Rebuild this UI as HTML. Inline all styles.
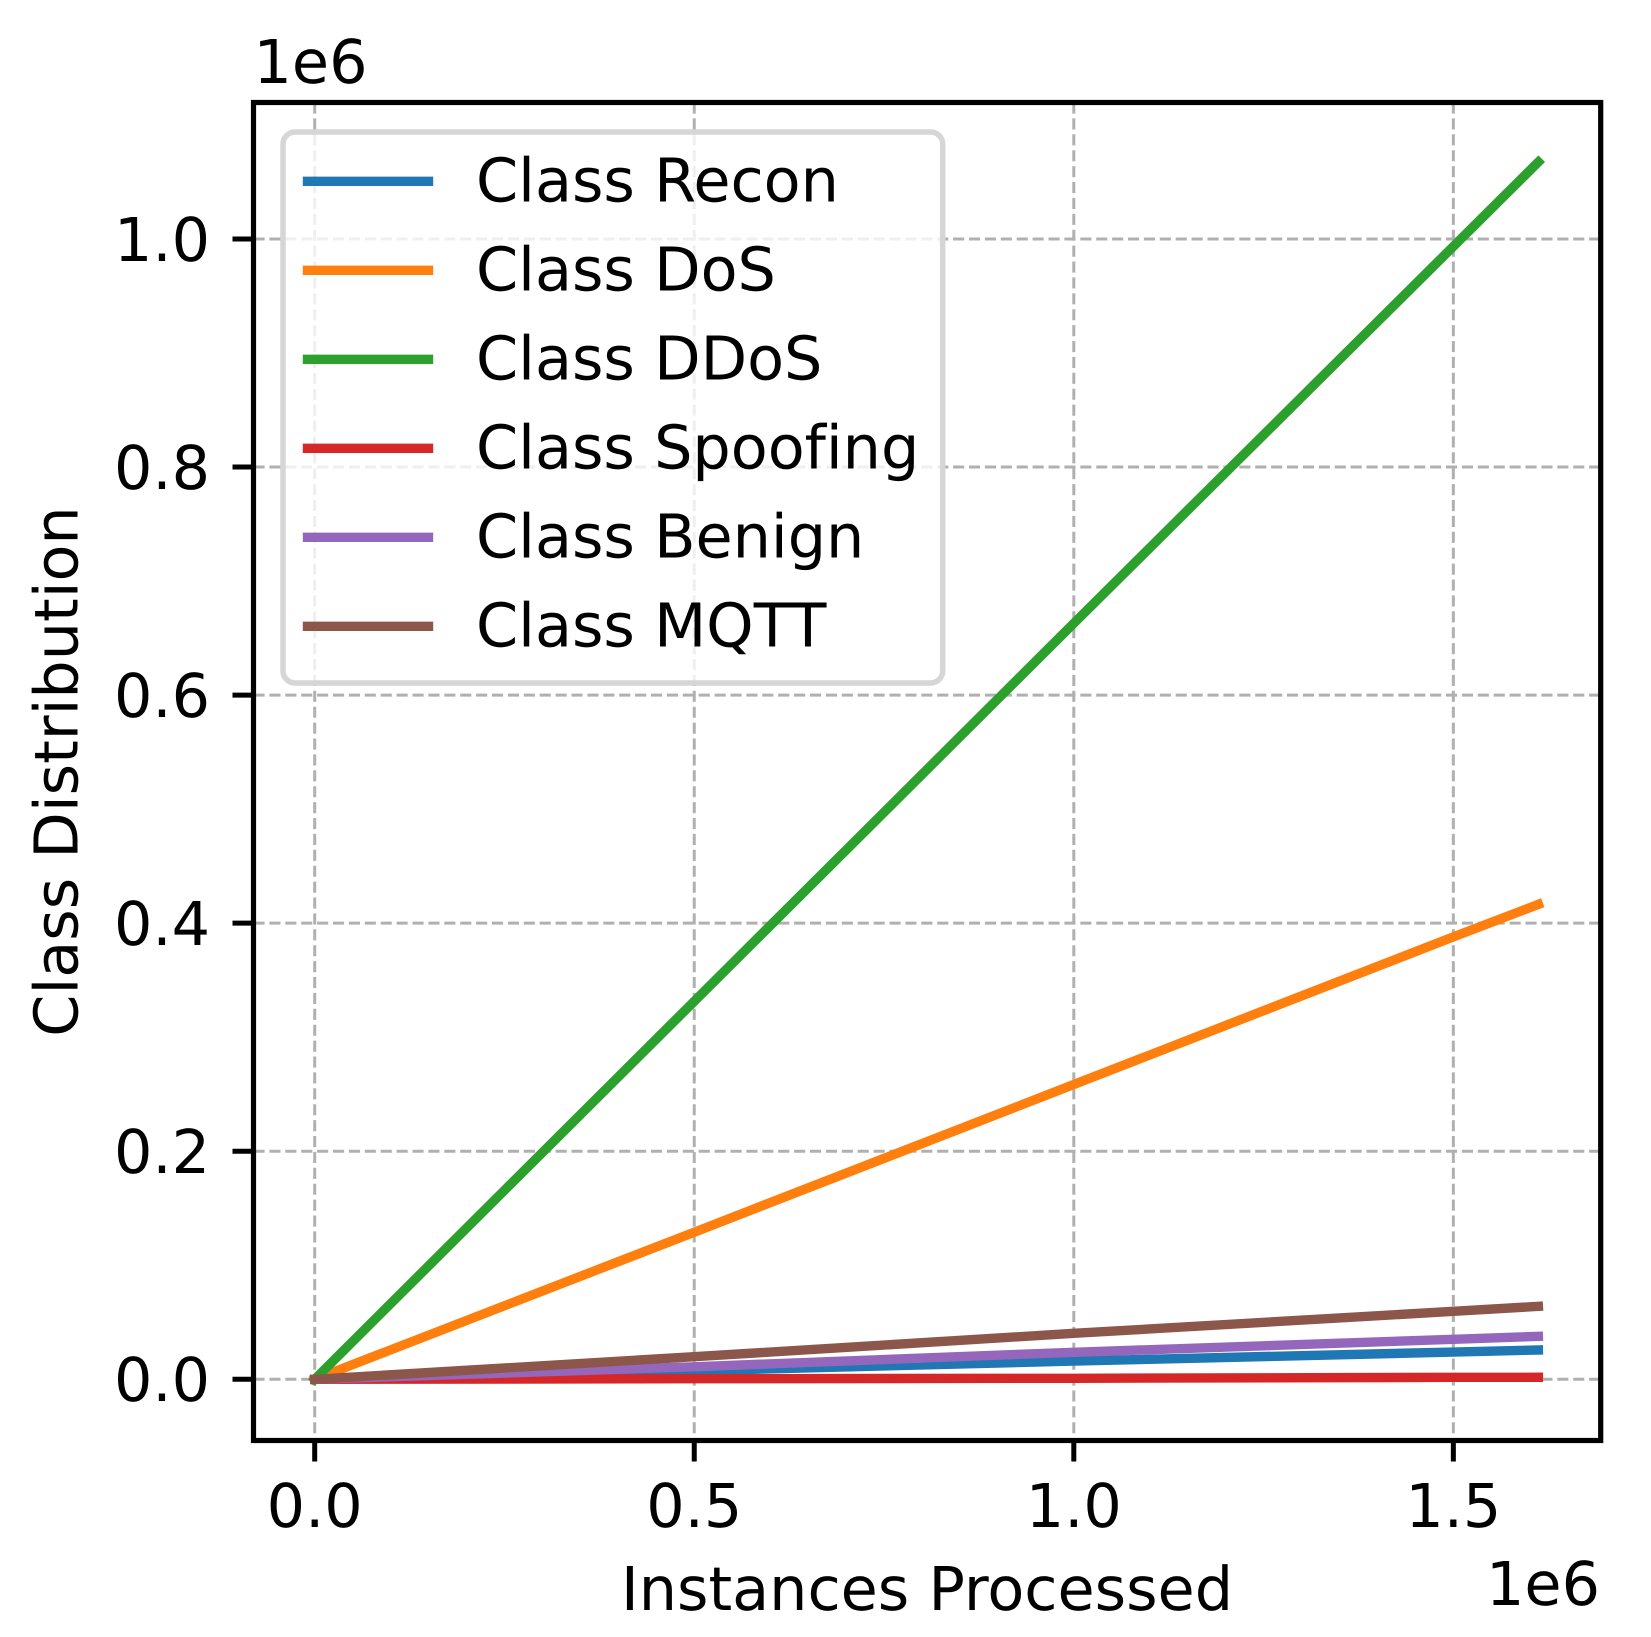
<!DOCTYPE html>
<html>
<head>
<meta charset="utf-8">
<style>
html,body{margin:0;padding:0;background:#fff;}
svg{display:block;}
text{font-family:"DejaVu Sans","Liberation Sans",sans-serif;fill:#000;font-size:60.4px;font-variant-ligatures:none;text-rendering:geometricPrecision;}
</style>
</head>
<body>
<svg id="chart" xmlns="http://www.w3.org/2000/svg" width="1651" height="1637" viewBox="0 0 1651 1637"></svg>
<script>
const xValues = [0, 0.5, 1.0, 1.5, 1.612];
const seriesNames = ["Class Recon", "Class DoS", "Class DDoS", "Class Spoofing", "Class Benign", "Class MQTT"];
const seriesColors = ["#1f77b4", "#ff7f0e", "#2ca02c", "#d62728", "#9467bd", "#8c564b"];
const reconValues = [0, 0.0075, 0.016, 0.0239, 0.0257];
const dosValues = [0, 0.129, 0.2585, 0.388, 0.4165];
const ddosValues = [0, 0.3315, 0.663, 0.9935, 1.0675];
const spoofingValues = [0, 0.0005, 0.0009, 0.0017, 0.0018];
const benignValues = [0, 0.011, 0.0237, 0.0351, 0.0377];
const mqttValues = [0, 0.0198, 0.0403, 0.0596, 0.064];
const xTickValues = [0, 0.5, 1.0, 1.5];
const yTickValues = [0, 0.2, 0.4, 0.6, 0.8, 1.0];
const xLabelText = "Instances Processed";
const yLabelText = "Class Distribution";

const allSeries = [reconValues, dosValues, ddosValues, spoofingValues, benignValues, mqttValues];
const NS = "http://www.w3.org/2000/svg";
const svg = document.getElementById("chart");
const plot = {left: 253.5, right: 1600.7, top: 102.5, bottom: 1440.5};
const xScale = v => 314.7 + v * 759.1;
const yScale = v => 1379.3 - v * 1140.3;
function make(tag, attrs, text) {
  const el = document.createElementNS(NS, tag);
  for (const k in attrs) el.setAttribute(k, attrs[k]);
  if (text !== undefined) el.textContent = text;
  svg.appendChild(el);
  return el;
}
function slug(s) { return s.toLowerCase().replace(/\s+/g, "-"); }

xTickValues.forEach(v => {
  const g = make("line", {x1: xScale(v), x2: xScale(v), y1: plot.top, y2: plot.bottom, stroke: "#b0b0b0", "stroke-width": 3, "stroke-dasharray": "11.1 4.8"});
  
  
});
yTickValues.forEach(v => {
  const g = make("line", {x1: plot.left, x2: plot.right, y1: yScale(v), y2: yScale(v), stroke: "#b0b0b0", "stroke-width": 3, "stroke-dasharray": "11.1 4.8"});
  
  
});

allSeries.forEach((vals, i) => {
  const pts = vals.map((v, j) => xScale(xValues[j]).toFixed(2) + "," + yScale(v).toFixed(2)).join(" ");
  const l = make("polyline", {points: pts, fill: "none", stroke: seriesColors[i], "stroke-width": 9.4, "stroke-linecap": "square", "stroke-linejoin": "round"});
  
  
});

const frame = make("rect", {x: plot.left, y: plot.top, width: plot.right - plot.left, height: plot.bottom - plot.top, fill: "none", stroke: "#000", "stroke-width": 5.2, "stroke-linejoin": "miter"});



xTickValues.forEach(v => {
  const t = make("line", {x1: xScale(v), x2: xScale(v), y1: plot.bottom, y2: plot.bottom + 21, stroke: "#000", "stroke-width": 5});
  
  
  const lab = make("text", {x: xScale(v), y: 1527, "text-anchor": "middle"}, v.toFixed(1));
  
  
});
yTickValues.forEach(v => {
  const t = make("line", {x1: plot.left, x2: plot.left - 21, y1: yScale(v), y2: yScale(v), stroke: "#000", "stroke-width": 5});
  
  
  const lab = make("text", {x: 210, y: yScale(v) + 21.9, "text-anchor": "end"}, v.toFixed(1));
  
  
});

const yOffset = make("text", {x: 253.5, y: 83}, "1e6");


const xOffset = make("text", {x: 1600, y: 1605, "text-anchor": "end"}, "1e6");


const xTitle = make("text", {x: 927, y: 1610, "text-anchor": "middle"}, xLabelText);


const yTitle = make("text", {x: 0, y: 0, "text-anchor": "middle", transform: "translate(77.7 771.5) rotate(-90)"}, yLabelText);



const legendBox = make("rect", {x: 283, y: 132, width: 659.7, height: 551, rx: 12, ry: 12, fill: "#fff", "fill-opacity": 0.8, stroke: "#d6d6d6", "stroke-width": 5.5});


seriesNames.forEach((name, i) => {
  const y = 181.3 + i * 89;
  const h = make("line", {x1: 307.5, x2: 428.5, y1: y, y2: y, stroke: seriesColors[i], "stroke-width": 9.4, "stroke-linecap": "square"});
  
  
  const lab = make("text", {x: 476, y: y + 20.4}, name);
  
  
});
</script>
</body>
</html>
